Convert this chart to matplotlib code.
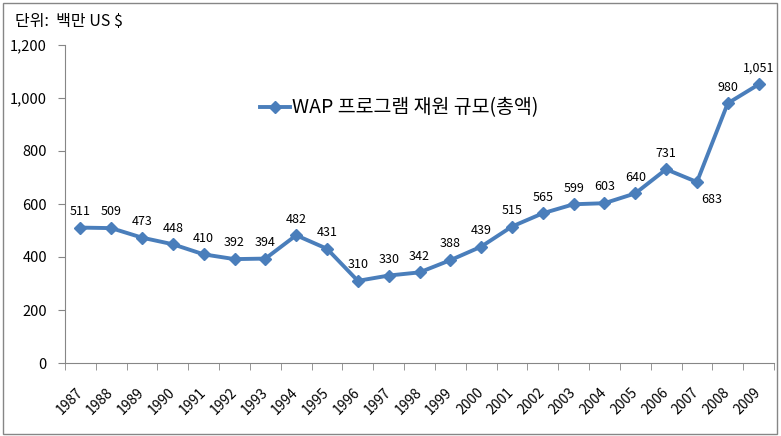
import matplotlib
matplotlib.use("Agg")
import matplotlib.pyplot as plt
from matplotlib.patches import Rectangle
import numpy as np

plt.rcParams["font.family"] = ["Noto Sans CJK KR", "DejaVu Sans"]

years = [str(y) for y in range(1987, 2010)]
values = [511, 509, 473, 448, 410, 392, 394, 482, 431, 310, 330, 342,
          388, 439, 515, 565, 599, 603, 640, 731, 683, 980, 1051]
yticks = [0, 200, 400, 600, 800, 1000, 1200]
series_name = "WAP 프로그램 재원 규모(총액)"
unit_text = "단위:  백만 US $"

LINE = "#4A7EBB"
AXIS = "#868686"

W, H = 781, 436
fig = plt.figure(figsize=(W / 100, H / 100), dpi=100)
ax = fig.add_axes([65 / W, (H - 363) / H, (774 - 65) / W, (363 - 45) / H])

x = np.arange(len(years))
ax.plot(x, values, color=LINE, lw=2.8, marker="D", ms=6.5,
        mfc=LINE, mec=LINE, label=series_name)

for xi, v in zip(x, values):
    lab = "{:,}".format(v)
    if v == 683:
        ax.annotate(lab, (xi, v), xytext=(3, -8), textcoords="offset points",
                    ha="left", va="top", fontsize=9)
    else:
        ax.annotate(lab, (xi, v), xytext=(0, 7), textcoords="offset points",
                    ha="center", va="bottom", fontsize=9)

ax.set_xlim(-0.5, len(years) - 0.5)
ax.set_ylim(0, 1200)
ax.set_yticks(yticks)
ax.set_yticklabels(["{:,}".format(t) for t in yticks], fontsize=10.5)

# slanted year labels, placed by hand so they sit like the original
ax.set_xticks(x)
ax.set_xticklabels([])
for xi, yr in zip(x, years):
    ax.annotate(yr, (xi, 0), xycoords=("data", "axes fraction"),
                xytext=(-5, -22), textcoords="offset pixels",
                rotation=45, ha="right", va="top", rotation_mode="anchor",
                fontsize=10, annotation_clip=False)
ax.set_xticks(np.arange(len(years) + 1) - 0.5, minor=True)
ax.tick_params(axis="x", which="major", length=0)
ax.tick_params(axis="x", which="minor", length=5, color=AXIS, direction="out")
ax.tick_params(axis="y", length=5, color=AXIS, pad=8)

for s in ("top", "right"):
    ax.spines[s].set_visible(False)
for s in ("left", "bottom"):
    ax.spines[s].set_color(AXIS)

ax.legend(loc="upper left", bbox_to_anchor=(0.251, 0.89), frameon=False,
          fontsize=14, handlelength=1.5, handletextpad=0.1)

fig.text(15 / W, 1 - 22 / H, unit_text, fontsize=11.5, va="center", ha="left")
fig.patches.append(Rectangle((3 / W, 2 / H), 774 / W, 431 / H,
                             transform=fig.transFigure, fill=False,
                             edgecolor=AXIS, lw=1))

fig.savefig("out.png", dpi=100)
